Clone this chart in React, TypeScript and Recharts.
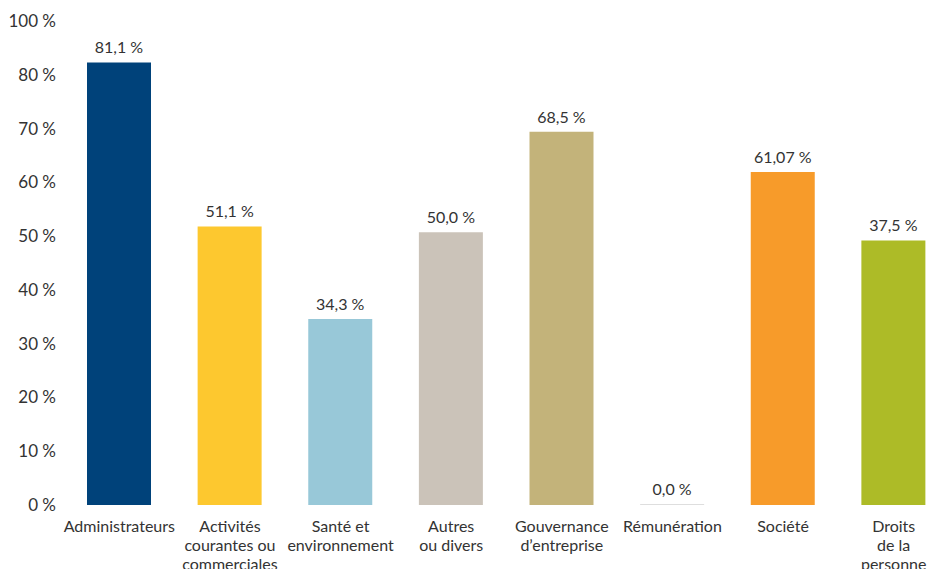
import React from "react";
import { BarChart, Bar, XAxis, YAxis, Cell, LabelList } from "recharts";

// Catégories (saut de ligne = retour à la ligne sous l'axe)
const categories = [
  "Administrateurs",
  "Activités\ncourantes ou\ncommerciales",
  "Santé et\nenvironnement",
  "Autres\nou divers",
  "Gouvernance\nd’entreprise",
  "Rémunération",
  "Société",
  "Droits\nde la\npersonne",
];

// Hauteur des barres
const values = [82.3, 51.8, 34.6, 50.7, 69.4, 0, 61.9, 49.2];

// Étiquettes affichées au-dessus des barres
const valueLabels = ["81,1 %", "51,1 %", "34,3 %", "50,0 %", "68,5 %", "0,0 %", "61,07 %", "37,5 %"];

const colors = ["#00427A", "#FDC82F", "#98C8D8", "#CBC3B9", "#C3B37A", "#DEDEDE", "#F79B2A", "#ADBB27"];

const yTicks = [0, 10, 20, 30, 40, 50, 60, 70, 80, 90];
const yTickLabels = ["0 %", "10 %", "20 %", "30 %", "40 %", "50 %", "60 %", "70 %", "80 %", "100 %"];

const data = categories.map((name, i) => ({
  name,
  value: values[i],
  label: valueLabels[i],
}));

const FONT = "Lato, 'Open Sans', sans-serif";

const CategoryTick = (props: any) => {
  const { x, y, payload } = props;
  const lines = String(payload.value).split("\n");
  return (
    <text x={x} y={y} textAnchor="middle" fill="#333" fontSize={16} fontFamily={FONT}>
      {lines.map((l, i) => (
        <tspan key={i} x={x} dy={19}>
          {l}
        </tspan>
      ))}
    </text>
  );
};

export default function App() {
  return (
    <div
      style={{
        position: "fixed",
        left: 0,
        top: 0,
        width: 930,
        height: 569,
        overflow: "hidden",
        background: "#fff",
      }}
    >
      <BarChart
        width={960}
        height={600}
        data={data}
        margin={{ top: 21, right: 11, left: 0, bottom: 0 }}
      >
        <XAxis
          dataKey="name"
          interval={0}
          axisLine={false}
          tickLine={false}
          height={95}
          tick={<CategoryTick />}
        />
        <YAxis
          width={64}
          domain={[0, 90]}
          ticks={yTicks}
          interval={0}
          axisLine={false}
          tickLine={false}
          tick={{ fill: "#333", fontSize: 17, fontFamily: FONT }}
          tickFormatter={(v: number) => yTickLabels[yTicks.indexOf(v)] ?? ""}
        />
        <Bar dataKey="value" barSize={64} minPointSize={1} isAnimationActive={false}>
          {data.map((d, i) => (
            <Cell key={d.name} fill={colors[i]} />
          ))}
          <LabelList
            dataKey="label"
            position="top"
            offset={9}
            fill="#333"
            fontSize={16}
            fontFamily={FONT}
          />
        </Bar>
      </BarChart>
    </div>
  );
}
